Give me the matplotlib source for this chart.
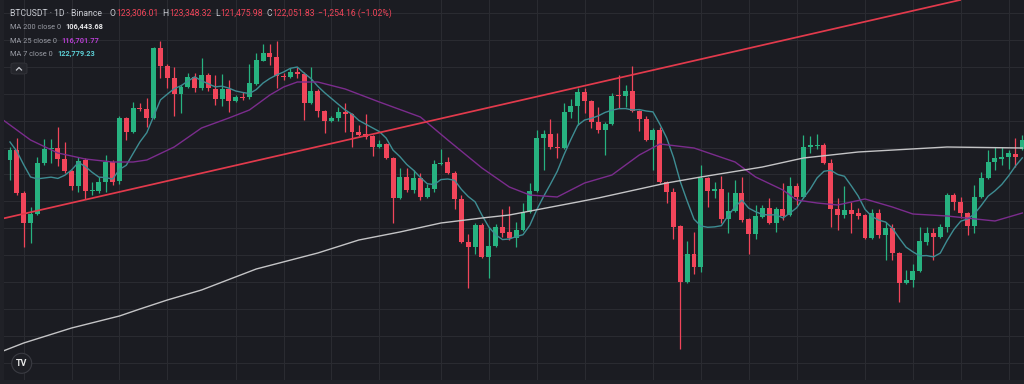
import matplotlib
matplotlib.use('Agg')
import matplotlib.pyplot as plt
import numpy as np
from matplotlib.patches import FancyBboxPatch, Circle, Rectangle
from matplotlib.lines import Line2D

# ---------------- data (BTCUSDT daily candles) ----------------
opens = [118600, 119000, 117280, 116080, 116440, 118480, 119040, 119080, 118640, 118160,
         117560, 118600, 117360, 117360, 117720, 118520, 117760, 120280, 119720, 120680,
         120640, 120280, 123080, 122360, 121880, 121240, 121520, 121920, 121480, 122000,
         121440, 121040, 121440, 120960, 121120, 121120, 121640, 122560, 122880, 122720,
         121960, 121920, 122120, 122040, 120880, 121360, 120560, 120160, 120280, 120520,
         120440, 119720, 119640, 119560, 119120, 119240, 118680, 117080, 117920, 117400,
         117880, 117120, 117440, 118440, 118520, 118080, 117040, 115320, 115120, 116000,
         114720, 115160, 115920, 115720, 115480, 115800, 116520, 117360, 119480, 119640,
         119120, 119080, 120520, 120760, 121320, 120960, 120120, 119800, 120040, 121200,
         121160, 121360, 120560, 120240, 119400, 119800, 117720, 117320, 115960, 113720,
         114840, 114320, 117880, 117360, 117440, 116240, 116560, 117280, 116240, 115640,
         116320, 116680, 116080, 116640, 116400, 117560, 117120, 119120, 119160, 119200,
         118480, 116640, 116400, 116600, 116480, 116400, 115480, 116480, 115600, 115880,
         114880, 113680, 113800, 114160, 115320, 115680, 115520, 115920, 117200, 116920,
         116480, 115960, 117120, 117880, 118520, 118640, 118720, 118840, 119040]
closes = [119000, 117280, 116080, 116440, 118480, 119040, 119080, 118640, 118160, 117560,
          118560, 117360, 117400, 117720, 118520, 117720, 120280, 119720, 120680, 120640,
          120280, 123080, 122360, 121880, 121240, 121520, 121920, 121480, 122000, 121480,
          121040, 121440, 120960, 121120, 121080, 121680, 122600, 122880, 122720, 121960,
          121920, 122120, 122040, 120880, 121360, 120560, 120160, 120280, 120520, 120440,
          119720, 119600, 119520, 119120, 119240, 118680, 117080, 117920, 117400, 117880,
          117120, 117480, 118440, 118480, 118080, 117040, 115320, 115120, 116000, 114720,
          115160, 115920, 115680, 115480, 115800, 116520, 117360, 119480, 119640, 119120,
          119080, 120520, 120760, 121320, 120960, 120120, 119800, 120040, 121160, 121160,
          121360, 120560, 120240, 119400, 119800, 117720, 117320, 115920, 113720, 114840,
          114320, 117880, 117360, 117440, 116240, 116560, 117280, 116200, 115640, 116360,
          116680, 116080, 116640, 116360, 117560, 117120, 119120, 119200, 119200, 118480,
          116640, 116400, 116600, 116440, 116360, 115480, 116480, 115600, 115880, 114880,
          113680, 113800, 114160, 115360, 115680, 115520, 115920, 117200, 116920, 116480,
          115960, 117120, 117880, 118520, 118680, 118720, 118880, 118720, 119400]
highs = [119120, 119480, 117360, 116720, 118720, 119440, 119440, 119920, 119320, 118200,
         118720, 118680, 117720, 117920, 118800, 118600, 120360, 120320, 120920, 120880,
         121080, 123120, 123360, 122440, 122320, 121600, 122080, 122080, 122680, 122080,
         122000, 122040, 121800, 121200, 121320, 122440, 122880, 123240, 123240, 123360,
         122080, 122280, 122320, 122120, 122320, 121440, 120600, 120360, 120720, 120880,
         120480, 120000, 120440, 119600, 119400, 119280, 118720, 118280, 118280, 118200,
         118080, 117640, 118600, 119040, 118720, 118160, 117200, 115640, 116080, 116080,
         115920, 116040, 116640, 116760, 116120, 116880, 117680, 119800, 119800, 120240,
         119680, 120880, 121040, 121480, 121480, 121000, 120720, 120120, 121280, 122000,
         121600, 122360, 120600, 120360, 119880, 119920, 117760, 117480, 116000, 115360,
         115720, 118400, 117920, 117720, 117960, 117320, 117800, 117920, 116280, 116800,
         116800, 117080, 116720, 117680, 117920, 117680, 119600, 119560, 119640, 119280,
         118640, 117080, 117560, 116920, 116680, 116440, 116640, 116640, 116120, 116040,
         114920, 114200, 114440, 115920, 115920, 115880, 116040, 117280, 117280, 117120,
         116520, 117600, 118120, 119000, 119120, 119120, 119000, 119480, 119600]
lows = [117800, 117200, 115120, 115280, 116400, 118400, 118480, 118360, 118080, 117400,
        117320, 117040, 117200, 117280, 117320, 117600, 117640, 119400, 119680, 120560,
        119920, 120240, 121880, 121480, 120360, 120480, 121480, 121320, 121400, 121360,
        120800, 120760, 120520, 120920, 121000, 121040, 121600, 122560, 122400, 121480,
        121800, 121880, 121880, 120200, 120840, 120320, 119680, 120120, 120160, 119720,
        119120, 119560, 119440, 118760, 119080, 118640, 116080, 117040, 117320, 117280,
        117000, 117080, 117320, 118400, 118040, 116640, 115280, 113480, 114840, 114680,
        113880, 115120, 115520, 115400, 115120, 115760, 116480, 117320, 118200, 119040,
        118680, 119040, 120280, 120000, 120480, 119880, 119680, 118800, 120000, 120680,
        120720, 120520, 119760, 119360, 118200, 117680, 116880, 115440, 111040, 113680,
        114040, 114120, 116720, 117080, 116080, 115680, 116520, 116120, 114840, 115440,
        116280, 116040, 115720, 116200, 116360, 116800, 117080, 118880, 119040, 118440,
        115920, 115800, 116280, 115680, 116240, 115440, 115440, 115480, 114600, 114600,
        112920, 113640, 113520, 114120, 115200, 114600, 115480, 115720, 116600, 116280,
        115600, 115680, 117080, 117840, 118200, 118400, 118240, 118320, 119000]
# closes of the six bars just before the visible window (for the MA 7 warm-up)
prior_closes = [119880, 119840, 119880, 119000, 118800, 118840]

# MA 25 and MA 200 lines (bar index, value)
ma25_idx = [-1, 3, 7, 11, 15, 18, 20, 24, 28, 32, 35, 38, 40, 42, 45, 49, 54, 60, 64, 69,
            73, 76, 80, 84, 88, 92, 95, 100, 106, 109, 113, 115, 118, 121, 125, 129, 132,
            137, 144, 148]
ma25_val = [120200, 119400, 118880, 118640, 118520, 118520, 118600, 119120, 119880, 120280,
            120600, 121200, 121520, 121720, 121720, 121440, 120920, 120320, 119400, 118280,
            117520, 117200, 117120, 117680, 118000, 118800, 119240, 119080, 118520, 117920,
            117400, 117000, 116880, 116800, 117040, 116720, 116440, 116360, 116160, 116480]
ma200_idx = [-1, 2, 9, 16, 19, 23, 28, 36, 45, 51, 57, 63, 69, 73, 83, 86, 96, 101, 110,
             116, 124, 137, 148]
ma200_val = [110960, 111280, 111880, 112360, 112640, 113000, 113400, 114240, 114880, 115400,
             115720, 116080, 116280, 116400, 116920, 117080, 117680, 117920, 118320, 118680,
             118920, 119120, 119080]
# red trend line anchors
trend_idx = [-0.7, 138.9]
trend_val = [116280, 125000]

# legend texts
title_text = "BTCUSDT · 1D · Binance"
ohlc_labels = ["O", "H", "L", "C"]
ohlc_values = ["123,306.01", "123,348.32", "121,475.98", "122,051.83"]
change_text = "\u22121,254.16 (\u22121.02%)"
ma_labels = ["MA 200 close 0", "MA 25 close 0", "MA 7 close 0"]
ma_values = ["106,443.68", "116,701.77", "122,779.23"]

# ---------------- styling ----------------
BG = '#1b1c22'
GRID = '#2a2b31'
UP = '#27b280'
DOWN = '#f1455a'
MA7_C = '#3e8d93'
MA25_C = '#7b2c8d'
MA200_C = '#c4c4c6'
TREND_C = '#e23a4c'
TXT = '#c9cbd2'
TXT2 = '#9a9ca5'

W, H = 1024, 384
X0, STEP = 10.0, 6.84
PX_PRICE = 40.0
TOP = 125000.0

fig = plt.figure(figsize=(W / 100, H / 100), dpi=100)
fig.patch.set_facecolor(BG)
ax = fig.add_axes([0, 0, 1, 1])
ax.set_facecolor(BG)
ax.set_xlim(-X0 / STEP, (W - X0) / STEP)
ax.set_ylim(TOP - PX_PRICE * H, TOP)
for s in ax.spines.values():
    s.set_visible(False)
ax.tick_params(length=0, labelbottom=False, labelleft=False)

# grid
vgrid = [2, 9, 16, 23, 33, 40, 47, 54, 63, 70, 77, 84, 94, 101, 108, 115, 125, 132, 139, 146]
ax.set_xticks(vgrid)
ax.set_yticks(np.arange(110480, TOP, 1077.2))
ax.grid(True, color=GRID, linewidth=0.8)
ax.set_axisbelow(True)

o = np.array(opens, float); c = np.array(closes, float)
h = np.array(highs, float); l = np.array(lows, float)
idx = np.arange(len(o))
up = c >= o
cols = np.where(up, UP, DOWN)

ax.vlines(idx, l, h, colors=cols, linewidth=0.9, zorder=2)
bottom = np.minimum(o, c)
height = np.maximum(np.abs(c - o), 45)
ax.bar(idx, height, bottom=bottom, width=0.72, color=cols, linewidth=0, zorder=3)

# moving averages
allc = np.array(prior_closes + closes, float)
ma7 = np.convolve(allc, np.ones(7) / 7, mode='valid')
ax.plot(np.arange(len(ma7)), ma7, color=MA7_C, linewidth=1.0, zorder=4)
ax.plot(ma25_idx, ma25_val, color=MA25_C, linewidth=1.0, zorder=4)
ax.plot(ma200_idx, ma200_val, color=MA200_C, linewidth=1.0, zorder=4)

# trend line
ax.axline((trend_idx[0], trend_val[0]), (trend_idx[1], trend_val[1]),
          color=TREND_C, linewidth=1.25, zorder=5)

# ---------------- overlay texts ----------------
FONT = ['Roboto', 'DejaVu Sans']
renderer = fig.canvas.get_renderer()

def ftext(x, y, s, color, size, weight='normal', ha='left'):
    t = fig.text(x / W, 1 - y / H, s, color=color, fontsize=size, family=FONT,
                 fontweight=weight, ha=ha, va='baseline')
    return t.get_window_extent(renderer=renderer).x1

SZ = 6.2
xe = ftext(10.5, 16, title_text, TXT, SZ)
x = max(xe + 5, 110)
for lab, val in zip(ohlc_labels, ohlc_values):
    xe = ftext(x, 16, lab, TXT, SZ)
    xe = ftext(xe + 0.6, 16, val, DOWN, SZ)
    x = xe + 3.5
ftext(x, 16, change_text, DOWN, SZ)

ma_cols = ['#e8e8ea', '#b43fcf', '#5ccfd6']
for i, (lab, val) in enumerate(zip(ma_labels, ma_values)):
    yy = 29 + i * 13.6
    xe = ftext(10.5, yy, lab, TXT2, 5.3)
    ftext(xe + 4, yy, val, ma_cols[i], 5.3, weight='bold')

# collapse button
btn = FancyBboxPatch((11 / W, 1 - 74 / H), 16 / W, 11 / H,
                     boxstyle='round,pad=0,rounding_size=0.004',
                     transform=fig.transFigure, facecolor='#25262c',
                     edgecolor='#34353b', linewidth=0.6)
fig.patches.append(btn)
fig.lines.append(Line2D([16.5 / W, 19 / W, 21.5 / W],
                        [1 - 70 / H, 1 - 67.5 / H, 1 - 70 / H],
                        transform=fig.transFigure, color=TXT, linewidth=0.9))

# TradingView logo
circ = Circle((21.7, H - 363.3), 10, transform=None, facecolor='#1e1f25',
              edgecolor='#3a3b42', linewidth=0.8)
fig.patches.append(circ)
fig.text(21.7 / W, 1 - 363.3 / H, 'TV', color='#e8e8e8', fontsize=6.5,
         fontweight='bold', ha='center', va='center', family=FONT)

# left strip / bottom border
fig.patches.append(Rectangle((0, 0), 4 / W, 1, transform=fig.transFigure,
                             facecolor='#202127', edgecolor='none'))
fig.patches.append(Rectangle((0, 0), 1, 4 / H, transform=fig.transFigure,
                             facecolor='#202127', edgecolor='none'))

fig.savefig('out.png', dpi=100, facecolor=BG)
